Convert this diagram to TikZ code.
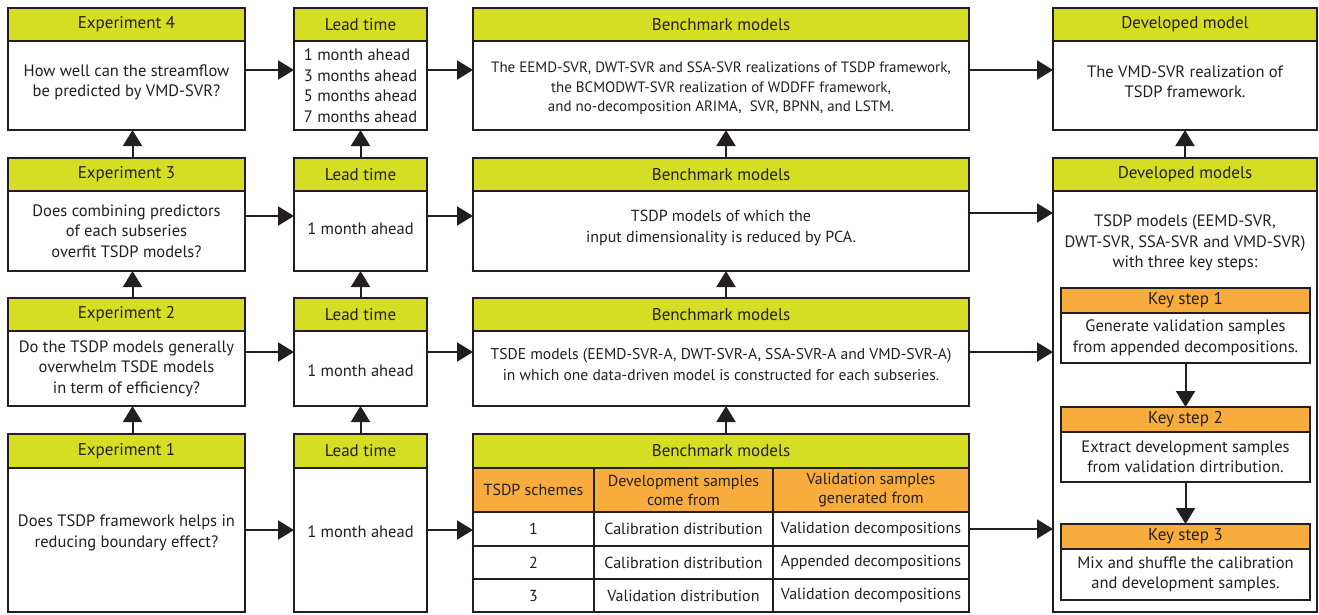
\documentclass[tikz,border=0pt]{standalone}
\usepackage{fontspec}
\setmainfont{PT Sans}
\usetikzlibrary{arrows.meta,calc}
\definecolor{yg}{HTML}{D5DE23}
\definecolor{og}{HTML}{F9AC3E}
\definecolor{lc}{HTML}{231F20}
\newcommand\hfnt{\fontsize{17}{20}\selectfont}
\newcommand\bfnt{\fontsize{16.5}{20.5}\selectfont}
\newcommand\tfnt{\fontsize{16}{19}\selectfont}
\tikzset{
  box/.style={draw=lc, line width=1.6pt, fill=white, anchor=north west, inner sep=0pt, outer sep=0pt},
  hdr/.style={draw=lc, line width=1.6pt, anchor=north west, inner sep=0pt, outer sep=0pt, text=lc, font=\hfnt},
  txt/.style={align=center, text=lc, font=\bfnt, inner sep=0pt},
  cell/.style={draw=lc, line width=1.6pt, anchor=north west, inner sep=0pt, outer sep=0pt, align=center, text=lc, font=\tfnt},
  arr/.style={draw=lc, line width=2pt, -{Triangle[length=16pt,width=19pt]}}
}
% name, x, y, w, h, header h, title, header fill
\newcommand\mkbox[8]{%
  \node[box, minimum width=#4pt, minimum height=#5pt] (#1) at (#2,#3) {};
  \node[hdr, fill=#8, minimum width=#4pt, minimum height=#6pt] (#1h) at (#2,#3) {#7};
  \coordinate (#1c) at ($(#1h.south)!.5!(#1.south)$);
}
\begin{document}
\begin{tikzpicture}[x=1pt,y=-1pt]
\useasboundingbox (0,0) rectangle (1319,614);
% column 1: experiments
\mkbox{e4}{8}{8}{237}{122}{33}{Experiment 4}{yg}
\mkbox{e3}{8}{158}{237}{113}{33}{Experiment 3}{yg}
\mkbox{e2}{8}{298}{237}{108}{33}{Experiment 2}{yg}
\mkbox{e1}{8}{434}{237}{178}{34}{Experiment 1}{yg}
% column 2: lead time
\mkbox{l4}{294}{8}{133}{122}{33}{Lead time}{yg}
\mkbox{l3}{294}{158}{133}{113}{33}{Lead time}{yg}
\mkbox{l2}{294}{298}{133}{108}{33}{Lead time}{yg}
\mkbox{l1}{294}{434}{133}{178}{34}{Lead time}{yg}
% column 3: benchmark
\mkbox{b4}{473}{8}{496}{122}{33}{Benchmark models}{yg}
\mkbox{b3}{473}{158}{496}{113}{33}{Benchmark models}{yg}
\mkbox{b2}{473}{298}{496}{108}{33}{Benchmark models}{yg}
\mkbox{b1}{473}{434}{496}{178}{34}{Benchmark models}{yg}
% column 4: developed
\mkbox{d4}{1053}{8}{264}{122}{33}{Developed model}{yg}
\mkbox{dm}{1053}{158}{264}{454}{33}{Developed models}{yg}
\mkbox{k1}{1061}{288}{249}{75}{25}{Key step 1}{og}
\mkbox{k2}{1061}{407}{249}{75}{25}{Key step 2}{og}
\mkbox{k3}{1061}{524}{249}{76}{25}{Key step 3}{og}

% texts
\node[txt] (e4t) at ([yshift=3pt]e4c) {How well can the streamflow\\be predicted by VMD-SVR?};
\node[txt] (e3t) at (e3c) {Does combining predictors\\of each subseries\\overfit TSDP models?};
\node[txt] (e2t) at (e2c) {Do the TSDP models generally\\overwhelm TSDE models\\in term of efficiency?};
\node[txt] (e1t) at ([yshift=7pt]e1c) {Does TSDP framework helps in\\reducing boundary effect?};
\node[txt, align=left] (l4t) at (l4c) {1 month ahead\\3 months ahead\\5 months ahead\\7 months ahead};
\node[txt] (l3t) at ([yshift=2pt]l3c) {1 month ahead};
\node[txt] (l2t) at ([yshift=-2pt]l2c) {1 month ahead};
\node[txt] (l1t) at ([yshift=8pt]l1c) {1 month ahead};
\node[txt, font=\fontsize{15}{19.5}\selectfont] (b4t) at ([yshift=-3pt]b4c) {The EEMD-SVR, DWT-SVR and SSA-SVR realizations of TSDP framework,\\the BCMODWT-SVR realization of WDDFF framework,\\and no-decomposition ARIMA,\ \ SVR, BPNN, and LSTM.};
\node[txt, font=\fontsize{16}{20.5}\selectfont] (b3t) at ([yshift=3pt]b3c) {TSDP models of which the\\input dimensionality is reduced by PCA.};
\node[txt, font=\fontsize{15.6}{21}\selectfont] (b2t) at ([yshift=4pt]b2c) {TSDE models (EEMD-SVR-A, DWT-SVR-A, SSA-SVR-A and VMD-SVR-A)\\in which one data-driven model is constructed for each subseries.};
\node[txt] (d4t) at ([yshift=4pt]d4c) {The VMD-SVR realization of\\TSDP framework.};
\node[txt] (dmt) at (1185,243) {TSDP models (EEMD-SVR,\\DWT-SVR, SSA-SVR and VMD-SVR)\\with three key steps:};
\node[txt] (k1t) at (k1c) {Generate validation samples\\from appended decompositions.};
\node[txt] (k2t) at (k2c) {Extract development samples\\from validation dirtribution.};
\node[txt] (k3t) at (k3c) {Mix and shuffle the calibration\\and development samples.};

% table
\node[cell, fill=og, minimum width=121pt, minimum height=44pt] (t01) at (473,468) {TSDP schemes};
\node[cell, fill=og, minimum width=179pt, minimum height=44pt] (t02) at (594,468) {Development samples\\come from};
\node[cell, fill=og, minimum width=196pt, minimum height=44pt] (t03) at (773,468) {Validation samples\\generated from};
\node[cell, fill=white, minimum width=121pt, minimum height=34pt] (t11) at (473,512) {1};
\node[cell, fill=white, minimum width=179pt, minimum height=34pt] (t12) at (594,512) {Calibration distribution};
\node[cell, fill=white, minimum width=196pt, minimum height=34pt] (t13) at (773,512) {Validation decompositions};
\node[cell, fill=white, minimum width=121pt, minimum height=33pt] (t21) at (473,546) {2};
\node[cell, fill=white, minimum width=179pt, minimum height=33pt] (t22) at (594,546) {Calibration distribution};
\node[cell, fill=white, minimum width=196pt, minimum height=33pt] (t23) at (773,546) {Appended decompositions};
\node[cell, fill=white, minimum width=121pt, minimum height=33pt] (t31) at (473,579) {3};
\node[cell, fill=white, minimum width=179pt, minimum height=33pt] (t32) at (594,579) {Validation distribution};
\node[cell, fill=white, minimum width=196pt, minimum height=33pt] (t33) at (773,579) {Validation decompositions};

% horizontal arrows
\draw[arr] ([yshift=-1pt]e4.east) -- ([yshift=-1pt]l4.west);
\draw[arr] ([yshift=-1.5pt]e3.east) -- ([yshift=-1.5pt]l3.west);
\draw[arr] (e2.east) -- (l2.west);
\draw[arr] ([yshift=-7pt]e1.east) -- ([yshift=-7pt]l1.west);
\draw[arr] ([yshift=-1pt]l4.east) -- ([yshift=-1pt]b4.west);
\draw[arr] ([yshift=-1.5pt]l3.east) -- ([yshift=-1.5pt]b3.west);
\draw[arr] (l2.east) -- (b2.west);
\draw[arr] ([yshift=-7pt]l1.east) -- ([yshift=-7pt]b1.west);
\draw[arr] ([yshift=-1pt]b4.east) -- ([yshift=-1pt]d4.west);
\draw[arr] ([yshift=1.5pt]b3.east) -- ([yshift=1.5pt]b3.east -| dm.west);
\draw[arr] (b2.east) -- (b2.east -| dm.west);
\draw[arr] ([yshift=-6pt]b1.east) -- ([yshift=-6pt]b1.east -| dm.west);
% vertical arrows
\draw[arr] ([xshift=6pt]e1h.north) -- ([xshift=6pt]e2.south);
\draw[arr] ([xshift=6pt]e2h.north) -- ([xshift=6pt]e3.south);
\draw[arr] ([xshift=6pt]e3h.north) -- ([xshift=6pt]e4.south);
\draw[arr] (l1h.north) -- (l2.south);
\draw[arr] (l2h.north) -- (l3.south);
\draw[arr] (l3h.north) -- (l4.south);
\draw[arr] ([xshift=5pt]b1h.north) -- ([xshift=5pt]b2.south);
\draw[arr] ([xshift=5pt]b2h.north) -- ([xshift=5pt]b3.south);
\draw[arr] ([xshift=5pt]b3h.north) -- ([xshift=5pt]b4.south);
\draw[arr] (dmh.north) -- (d4.south);
\draw[arr] (k1.south) -- (k2h.north);
\draw[arr] (k2.south) -- (k3h.north);
\end{tikzpicture}
\end{document}
